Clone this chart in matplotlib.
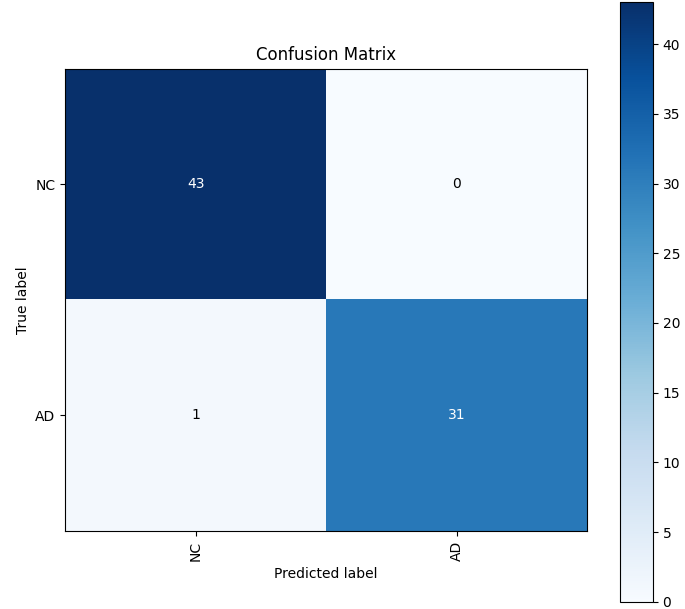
# Confusion matrix for NC vs AD classification
import numpy as np
import matplotlib.pyplot as plt

classes = ["NC", "AD"]
counts = np.array([[43, 0],
                   [1, 31]])

fig = plt.figure(figsize=(6.85, 6.09), dpi=100)
ax = fig.add_axes([0.095, 0.128, 0.762, 0.759])
cax = fig.add_axes([0.905, 0.012, 0.048, 0.984])

im = ax.imshow(counts, interpolation="nearest", cmap=plt.cm.Blues, aspect="auto")
ax.set_title("Confusion Matrix")
cb = fig.colorbar(im, cax=cax)
cb.set_ticks(np.arange(0, 45, 5))

ax.set_xticks(np.arange(len(classes)))
ax.set_xticklabels(classes, rotation=90)
ax.set_yticks(np.arange(len(classes)))
ax.set_yticklabels(classes)

thresh = counts.max() / 2.0
for i in range(counts.shape[0]):
    for j in range(counts.shape[1]):
        ax.text(j, i, format(counts[i, j], "d"), ha="center", va="center",
                color="white" if counts[i, j] > thresh else "black")

ax.set_ylabel("True label")
ax.set_xlabel("Predicted label")

fig.savefig("out.png", dpi=100)
